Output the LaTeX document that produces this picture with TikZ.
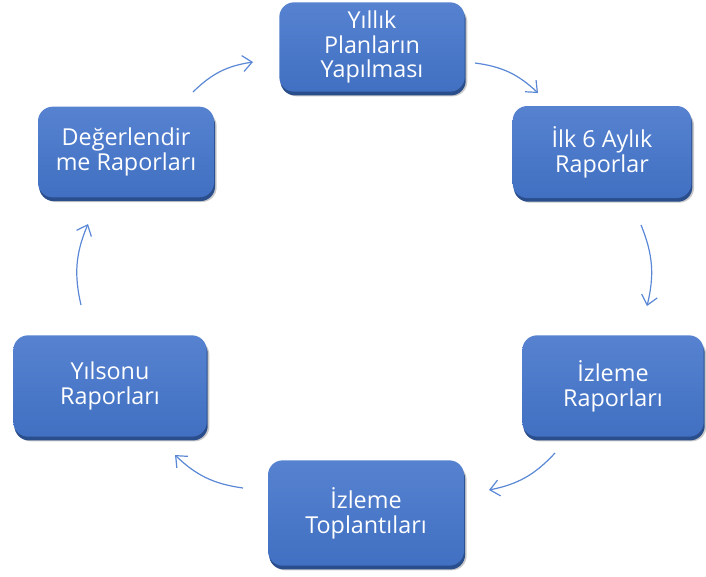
\documentclass[tikz,border=0pt]{standalone}
\usepackage{fontspec}
\setmainfont{Open Sans}
\usetikzlibrary{shadows,arrows.meta}
\definecolor{boxblue}{HTML}{4170C2}
\definecolor{boxlight}{HTML}{5682D0}
\definecolor{boxdark}{HTML}{2A4D8C}
\definecolor{arrowblue}{HTML}{5A88D6}
\begin{document}
\begin{tikzpicture}[x=0.75pt,y=-0.75pt,
  box/.style={rounded corners=11pt, top color=boxlight, bottom color=boxblue,
    draw=none, text=white, align=center, inner sep=2pt,
    font=\fontsize{17.5}{18.5}\selectfont,
    drop shadow={shadow xshift=2pt,shadow yshift=-3.5pt,opacity=0.3,fill=black!70},
    drop shadow={shadow xshift=0.8pt,shadow yshift=-2.8pt,opacity=1,fill=boxdark}},
  conn/.style={draw=arrowblue, line width=0.9pt, -{Straight Barb[length=7pt,width=12pt]}, bend left=18}]
\useasboundingbox (0,0) rectangle (706,576);
\node[box, minimum width=139pt, minimum height=67pt] (top) at (372,47) {Yıllık\\Planların\\Yapılması};
\node[box, minimum width=134pt, minimum height=69pt] (rt) at (602,152) {İlk 6 Aylık\\Raporlar};
\node[box, minimum width=136pt, minimum height=76pt] (rb) at (613,386) {İzleme\\Raporları};
\node[box, minimum width=147pt, minimum height=79pt] (bot) at (366,513) {İzleme\\Toplantıları};
\node[box, minimum width=145pt, minimum height=76pt] (lb) at (110,386) {Yılsonu\\Raporları};
\node[box, minimum width=132pt, minimum height=68pt] (lt) at (126,152) {Değerlendir\\me Raporları};
\coordinate (a1s) at (193,92);  \coordinate (a1e) at (253,62);
\coordinate (a2s) at (475,63);  \coordinate (a2e) at (538,93);
\coordinate (a3s) at (641,225); \coordinate (a3e) at (647,306);
\coordinate (a4s) at (555,453); \coordinate (a4e) at (489,490);
\coordinate (a5s) at (243,488); \coordinate (a5e) at (175,455);
\coordinate (a6s) at (81,305);  \coordinate (a6e) at (88,224);
\draw[conn] (a1s) to (a1e);
\draw[conn] (a2s) to (a2e);
\draw[conn] (a3s) to (a3e);
\draw[conn] (a4s) to (a4e);
\draw[conn] (a5s) to (a5e);
\draw[conn] (a6s) to (a6e);
\end{tikzpicture}
\end{document}
